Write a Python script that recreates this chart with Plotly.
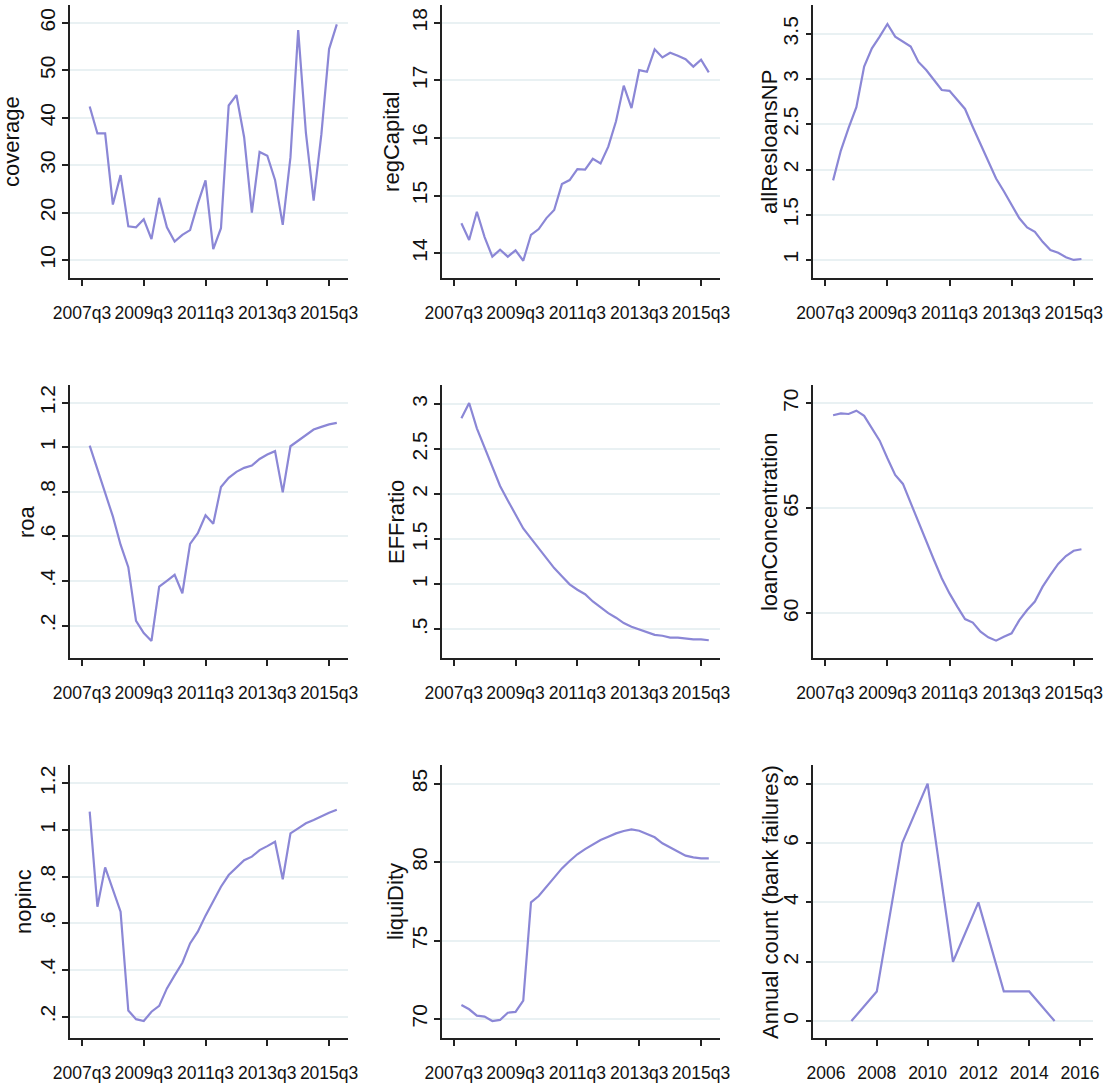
import pandas as pd
import plotly.graph_objects as go
from plotly.subplots import make_subplots

# Quarterly sample: 2007q4 .. 2015q4
quarters = [f"{p.year}q{p.quarter}" for p in pd.period_range("2007Q4", "2015Q4", freq="Q")]
quarter_ticks = ["2007q3", "2009q3", "2011q3", "2013q3", "2015q3"]

coverage = [42.4, 36.7, 36.7, 21.7, 27.9, 17.1, 16.9, 18.6, 14.4, 23.1, 16.9, 13.9, 15.3,
            16.3, 21.9, 26.8, 12.3, 16.7, 42.6, 44.8, 35.9, 20.0, 32.8, 32.0, 26.9, 17.4,
            31.7, 58.5, 36.8, 22.5, 36.5, 54.5, 59.7]
regCapital = [14.52, 14.23, 14.72, 14.28, 13.94, 14.06, 13.94, 14.05, 13.87, 14.32, 14.42,
              14.61, 14.75, 15.20, 15.27, 15.46, 15.45, 15.64, 15.56, 15.85, 16.29, 16.91,
              16.52, 17.18, 17.15, 17.54, 17.40, 17.48, 17.43, 17.37, 17.24, 17.36, 17.14]
allResloansNP = [1.88, 2.21, 2.46, 2.69, 3.14, 3.34, 3.47, 3.61, 3.47, 3.41, 3.36, 3.19, 3.10,
                 2.99, 2.88, 2.87, 2.77, 2.67, 2.47, 2.28, 2.09, 1.90, 1.76, 1.61, 1.46, 1.36,
                 1.31, 1.20, 1.11, 1.08, 1.03, 1.00, 1.01]
roa = [1.008, 0.90, 0.79, 0.69, 0.563, 0.462, 0.221, 0.166, 0.131, 0.375, 0.401, 0.428,
       0.345, 0.567, 0.615, 0.695, 0.657, 0.822, 0.863, 0.890, 0.908, 0.918, 0.948, 0.968,
       0.983, 0.798, 1.005, 1.031, 1.058, 1.080, 1.092, 1.103, 1.110]
EFFratio = [2.84, 3.01, 2.73, 2.51, 2.30, 2.09, 1.93, 1.78, 1.62, 1.51, 1.40, 1.28, 1.18,
            1.09, 1.00, 0.94, 0.89, 0.81, 0.74, 0.68, 0.63, 0.57, 0.53, 0.50, 0.47, 0.44,
            0.43, 0.41, 0.41, 0.40, 0.39, 0.39, 0.38]
loanConcentration = [69.43, 69.52, 69.49, 69.65, 69.40, 68.81, 68.22, 67.38, 66.59, 66.16,
                     65.24, 64.37, 63.49, 62.54, 61.67, 60.95, 60.32, 59.73, 59.56, 59.13,
                     58.86, 58.70, 58.89, 59.05, 59.68, 60.16, 60.56, 61.27, 61.83, 62.35,
                     62.73, 62.98, 63.05]
nopinc = [1.079, 0.671, 0.840, 0.743, 0.650, 0.226, 0.189, 0.181, 0.221, 0.246, 0.321, 0.377,
          0.431, 0.514, 0.564, 0.633, 0.697, 0.757, 0.807, 0.840, 0.871, 0.886, 0.914, 0.931,
          0.950, 0.789, 0.986, 1.007, 1.029, 1.043, 1.060, 1.074, 1.087]
liquiDity = [70.89, 70.62, 70.21, 70.15, 69.87, 69.94, 70.40, 70.45, 71.17, 77.44, 77.84,
             78.43, 79.01, 79.60, 80.07, 80.50, 80.83, 81.13, 81.41, 81.62, 81.83, 81.98,
             82.09, 82.00, 81.77, 81.58, 81.20, 80.92, 80.66, 80.41, 80.30, 80.24, 80.24]

years = [2007, 2008, 2009, 2010, 2011, 2012, 2013, 2014, 2015]
bank_failures = [0, 1, 6, 8, 2, 4, 1, 1, 0]
year_ticks = [2006, 2008, 2010, 2012, 2014, 2016]


def qindex(label):
    """Quarters elapsed since 2007q3."""
    y, q = label.split("q")
    return (int(y) - 2007) * 4 + int(q) - 3


qx = [qindex(q) for q in quarters]
qtickvals = [qindex(q) for q in quarter_ticks]

LINE = "#8b87d6"
GRID = "#e9f1f3"
AXIS = "#222222"
FONT = "Liberation Sans, Arial"
TICKFONT = dict(family=FONT, size=17.5, color="#111111")
YTICKFONT = dict(family=FONT, size=21, color="#111111")
TITLE_SIZE = 22
TITLEFONT = dict(family=FONT, size=TITLE_SIZE, color="#111111")

# panel spec: (values, y title, y tick values, y tick text, y range, title baseline x in px)
panels = [
    (coverage, "coverage", [10, 20, 30, 40, 50, 60], None, [6.2, 63.8], 19),
    (regCapital, "regCapital", [14, 15, 16, 17, 18], None, [13.57, 18.31], 399),
    (allResloansNP, "allResloansNP", [1, 1.5, 2, 2.5, 3, 3.5], ["1", "1.5", "2", "2.5", "3", "3.5"], [0.80, 3.82], 777),
    (roa, "roa", [0.2, 0.4, 0.6, 0.8, 1, 1.2], [".2", ".4", ".6", ".8", "1", "1.2"], [0.053, 1.28], 34),
    (EFFratio, "EFFratio", [0.5, 1, 1.5, 2, 2.5, 3], [".5", "1", "1.5", "2", "2.5", "3"], [0.18, 3.21], 404),
    (loanConcentration, "loanConcentration", [60, 65, 70], None, [57.86, 70.87], 777),
    (nopinc, "nopinc", [0.2, 0.4, 0.6, 0.8, 1, 1.2], [".2", ".4", ".6", ".8", "1", "1.2"], [0.107, 1.279], 31),
    (liquiDity, "liquiDity", [70, 75, 80, 85], None, [68.77, 86.19], 403),
    (bank_failures, "Annual count (bank failures)", [0, 2, 4, 6, 8], None, [-0.58, 8.63], 778),
]

W, H = 1107, 1088
col_px = [(70, 348), (441.7, 720), (813.3, 1092.7)]
row_px = [(5, 278), (385, 658.3), (765, 1038.3)]

fig = make_subplots(rows=3, cols=3)

for i, (vals, title, tv, tt, yr, baseline_x) in enumerate(panels):
    r, c = divmod(i, 3)
    is_years = (i == 8)
    fig.add_trace(
        go.Scatter(
            x=years if is_years else qx,
            y=vals,
            mode="lines",
            line=dict(color=LINE, width=2.2),
            showlegend=False,
            hoverinfo="x+y",
        ),
        row=r + 1, col=c + 1,
    )
    x0, x1 = col_px[c]
    y0, y1 = row_px[r]
    xdom = [x0 / W, x1 / W]
    ydom = [1 - y1 / H, 1 - y0 / H]
    fig.update_xaxes(
        domain=xdom,
        automargin=False,
        range=[2005.5, 2016.5] if is_years else [-1.55, 34.45],
        tickmode="array",
        tickvals=year_ticks if is_years else qtickvals,
        ticktext=[str(y) for y in year_ticks] if is_years else quarter_ticks,
        tickangle=0,
        ticks="outside", ticklen=6, tickwidth=1.5, tickcolor=AXIS,
        ticklabelstandoff=12,
        showline=True, linecolor=AXIS, linewidth=1.5,
        showgrid=False, zeroline=False,
        tickfont=TICKFONT,
        row=r + 1, col=c + 1,
    )
    fig.update_yaxes(
        domain=ydom,
        automargin=False,
        range=yr,
        tickmode="array",
        tickvals=tv,
        ticktext=tt if tt is not None else [str(v) for v in tv],
        tickangle=-90,
        ticks="outside", ticklen=6, tickwidth=1.5, tickcolor=AXIS,
        ticklabelstandoff=-1,
        showline=True, linecolor=AXIS, linewidth=1.5,
        showgrid=True, gridcolor=GRID, gridwidth=1.5,
        zeroline=False,
        tickfont=YTICKFONT,
        row=r + 1, col=c + 1,
    )
    # y-axis title, rotated; its text box is centred from the baseline position
    fig.add_annotation(
        text=title,
        xref="paper", yref="paper",
        x=(baseline_x - 0.3465 * TITLE_SIZE) / W, y=(ydom[0] + ydom[1]) / 2,
        xanchor="center", yanchor="middle",
        textangle=-90,
        showarrow=False,
        font=TITLEFONT,
    )

fig.update_layout(
    width=W, height=H,
    margin=dict(l=0, r=0, t=0, b=0),
    paper_bgcolor="white",
    plot_bgcolor="white",
)

fig.write_html("out.html")
